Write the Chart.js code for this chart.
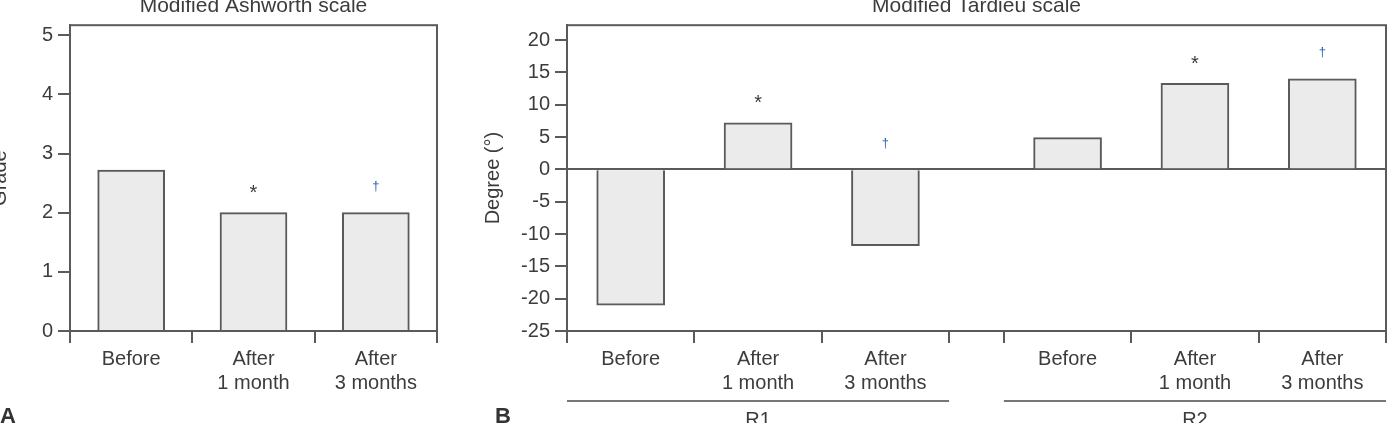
<!DOCTYPE html>
<html>
<head>
<meta charset="utf-8">
<script src="https://cdn.jsdelivr.net/npm/chart.js@4/dist/chart.umd.min.js"></script>
<style>
  html, body { margin: 0; padding: 0; background: #fff; }
  body { width: 1393px; height: 423px; overflow: hidden; position: relative; }
  .panel { position: absolute; top: -10px; height: 445px; }
  #panel-a { left: -20px; width: 490px; }
  #panel-b { left: 470px; width: 923px; }
</style>
</head>
<body>
<div class="panel" id="panel-a"><canvas id="grafico-ashworth"></canvas></div>
<div class="panel" id="panel-b"><canvas id="grafico-tardieu"></canvas></div>
<script>
// categorias e valores
const timeLabels = [['Before'], ['After', '1 month'], ['After', '3 months']];
const ashworthGrade = [2.72, 2.0, 2.0];
const ashworthMarks = ['', '*', '\u2020'];

const tardieuGroups = ['R1', 'R2'];
const tardieuR1 = [-21.0, 7.2, -11.8];
const tardieuR2 = [4.9, 13.3, 14.0];
const tardieuMarks = ['', '*', '\u2020', '', '*', '\u2020'];

const ashworthTicks = [0, 1, 2, 3, 4, 5];
const tardieuTicks = [-25, -20, -15, -10, -5, 0, 5, 10, 15, 20];

const INK = '#3c3c3c';
const LINE = '#5a5a5a';
const FILL = '#ebebeb';
const FONT = 'Liberation Sans';

Chart.defaults.font.family = FONT;
Chart.defaults.font.size = 20;
Chart.defaults.color = INK;

// moldura + marcas de significancia + rotulos de grupo
const decorPlugin = {
    id: 'decor',
    afterDatasetsDraw(chart, args, opts) {
        const ctx = chart.ctx;
        const area = chart.chartArea;
        const yScale = chart.scales.y;
        const meta = chart.getDatasetMeta(0);
        const values = chart.data.datasets[0].data.map(d => (typeof d === 'object' ? d.y : d));

        ctx.save();
        ctx.strokeStyle = LINE;
        ctx.lineWidth = 2;
        ctx.strokeRect(area.left, area.top, area.right - area.left, area.bottom - area.top);

        ctx.textAlign = 'center';
        ctx.textBaseline = 'middle';
        opts.marks.forEach((m, i) => {
            if (!m) return;
            const top = yScale.getPixelForValue(Math.max(values[i], 0));
            const x = meta.data[i].x;
            if (m === '*') {
                ctx.fillStyle = INK;
                ctx.font = '20px ' + FONT;
                ctx.fillText(m, x, top - 19);
            } else {
                ctx.fillStyle = '#2f63b0';
                ctx.font = '13px ' + FONT;
                ctx.fillText(m, x, top - 26);
            }
        });

        if (opts.groups) {
            const xScale = chart.scales.x;
            ctx.textBaseline = 'alphabetic';
            ctx.font = '20px ' + FONT;
            opts.groups.forEach(g => {
                const x0 = xScale.getPixelForValue(g.from);
                const x1 = xScale.getPixelForValue(g.to);
                const y = area.bottom + 70;
                ctx.strokeStyle = '#777';
                ctx.beginPath();
                ctx.moveTo(x0, y);
                ctx.lineTo(x1, y);
                ctx.stroke();
                ctx.fillStyle = INK;
                ctx.fillText(g.name, (x0 + x1) / 2, area.bottom + 95);
            });
        }

        ctx.fillStyle = '#333';
        ctx.textAlign = 'left';
        ctx.textBaseline = 'alphabetic';
        ctx.font = 'bold 22px ' + FONT;
        ctx.fillText(opts.letter, area.left - opts.letterOffset, area.bottom + 92);
        ctx.restore();
    }
};

function yAxis(min, max, step, keep, width, titleText, titlePad) {
    return {
        min: min,
        max: max,
        afterBuildTicks: (scale) => {
            scale.ticks = keep.map(v => ({ value: v }));
        },
        afterFit: (scale) => { scale.width = width; },
        ticks: { stepSize: step, includeBounds: false, padding: 5, color: INK },
        border: { display: true, color: LINE, width: 2 },
        grid: {
            color: (c) => (c.tick && c.tick.value === 0 && min < 0 ? LINE : 'rgba(0,0,0,0)'),
            lineWidth: 2,
            tickColor: LINE,
            tickLength: 12
        },
        title: { display: true, text: titleText, color: INK, padding: { top: titlePad, bottom: 0 } }
    };
}

function titleOpts(text) {
    return {
        display: true,
        text: text,
        fullSize: false,
        color: INK,
        font: { size: 21, weight: 'normal' },
        padding: { top: 4, bottom: 6 }
    };
}

// Painel A
new Chart(document.getElementById('grafico-ashworth').getContext('2d'), {
    type: 'bar',
    data: {
        labels: timeLabels,
        datasets: [{
            data: ashworthGrade,
            backgroundColor: FILL,
            borderColor: LINE,
            borderWidth: 2,
            barThickness: 67
        }]
    },
    options: {
        responsive: true,
        maintainAspectRatio: false,
        animation: false,
        layout: { padding: { left: 0, right: 33, top: 0, bottom: 0 } },
        plugins: {
            legend: { display: false },
            tooltip: { enabled: false },
            title: titleOpts('Modified Ashworth scale'),
            decor: { marks: ashworthMarks, letter: 'A', letterOffset: 70 }
        },
        scales: {
            x: {
                afterFit: (scale) => { scale.height = 104; },
                border: { display: true, color: LINE, width: 2 },
                grid: { drawOnChartArea: false, tickColor: LINE, tickLength: 12, lineWidth: 2 },
                ticks: { padding: 4, color: INK, maxRotation: 0, autoSkip: false }
            },
            y: yAxis(0, 5.17, 1, ashworthTicks, 90, 'Grade', 8)
        }
    },
    plugins: [decorPlugin]
});

// Painel B: eixo x linear para permitir o espaco entre R1 e R2
const GAP = 0.43;
const tardieuValues = tardieuR1.concat(tardieuR2);
const slotStart = (i) => i + (i >= tardieuR1.length ? GAP : 0);
const centers = tardieuValues.map((v, i) => slotStart(i) + 0.5);
const bounds = [];
tardieuValues.forEach((v, i) => {
    bounds.push(slotStart(i));
    if (i === tardieuR1.length - 1 || i === tardieuValues.length - 1) bounds.push(slotStart(i) + 1);
});
const allLabels = timeLabels.concat(timeLabels);
const labelAt = new Map(centers.map((c, i) => [c, allLabels[i]]));
const boundSet = new Set(bounds);
const xMax = slotStart(tardieuValues.length - 1) + 1;

new Chart(document.getElementById('grafico-tardieu').getContext('2d'), {
    type: 'bar',
    data: {
        datasets: [{
            data: tardieuValues.map((v, i) => ({ x: centers[i], y: v })),
            backgroundColor: FILL,
            borderColor: LINE,
            borderWidth: 2,
            barThickness: 68
        }]
    },
    options: {
        responsive: true,
        maintainAspectRatio: false,
        animation: false,
        layout: { padding: { left: 0, right: 7, top: 0, bottom: 0 } },
        plugins: {
            legend: { display: false },
            tooltip: { enabled: false },
            title: titleOpts('Modified Tardieu scale'),
            decor: {
                marks: tardieuMarks,
                letter: 'B',
                letterOffset: 72,
                groups: [
                    { name: tardieuGroups[0], from: 0, to: slotStart(tardieuR1.length - 1) + 1 },
                    { name: tardieuGroups[1], from: slotStart(tardieuR1.length), to: xMax }
                ]
            }
        },
        scales: {
            x: {
                type: 'linear',
                min: 0,
                max: xMax,
                offset: false,
                afterBuildTicks: (scale) => {
                    scale.ticks = bounds.concat(centers).sort((a, b) => a - b).map(v => ({ value: v }));
                },
                afterFit: (scale) => { scale.height = 104; },
                border: { display: true, color: LINE, width: 2 },
                grid: {
                    offset: false,
                    drawOnChartArea: false,
                    tickLength: 12,
                    lineWidth: 2,
                    tickColor: (c) => (c.tick && boundSet.has(c.tick.value) ? LINE : 'rgba(0,0,0,0)')
                },
                ticks: {
                    padding: 4,
                    color: INK,
                    maxRotation: 0,
                    minRotation: 0,
                    autoSkip: false,
                    callback: (value) => labelAt.get(value) || ''
                }
            },
            y: yAxis(-25, 22.3, 5, tardieuTicks, 97, 'Degree (\u00b0)', 11)
        }
    },
    plugins: [decorPlugin]
});
</script>
</body>
</html>
